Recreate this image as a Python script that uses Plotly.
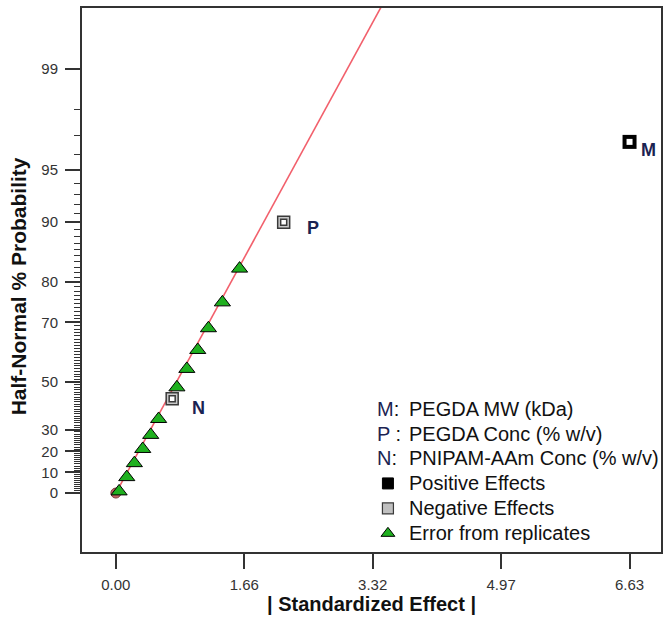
import plotly.graph_objects as go
from statistics import NormalDist

# ---------------- data ----------------
error_effects = [0.042, 0.141, 0.239, 0.347, 0.450, 0.552, 0.788, 0.916, 1.057, 1.195, 1.375, 1.597]
error_prob = [0.8, 7.7, 14.4, 21.1, 27.6, 34.7, 47.9, 54.9, 61.5, 68.3, 75.3, 82.7]

factor_names = ["M", "P", "N"]
factor_effects = [6.63, 2.166, 0.727]
factor_prob = [96.7, 90.0, 43.3]
factor_sign = ["positive", "negative", "negative"]

origin_effect = [0.0]
origin_prob = [0.0]

fit_slope = 0.862          # half-normal z per unit effect
fit_x = [0.0, 3.6]

x_tick_vals = [0.0, 1.6575, 3.315, 4.9725, 6.63]
x_tick_text = ["0.00", "1.66", "3.32", "4.97", "6.63"]
y_tick_prob = [0, 10, 20, 30, 50, 70, 80, 90, 95, 99]
y_tick_text = ["0", "10", "20", "30", "50", "70", "80", "90", "95", "99"]

legend_letters = ["M", "P", "N"]
legend_letter_sep = [":", " :", ":"]
legend_texts = ["PEGDA MW (kDa)", "PEGDA Conc (% w/v)", "PNIPAM-AAm Conc (% w/v)",
                "Positive Effects", "Negative Effects", "Error from replicates"]

# ---------------- helpers ----------------
nd = NormalDist()


def hn(p):
    """half-normal probability (%) -> z score"""
    return nd.inv_cdf(0.5 + p / 200.0)


NAVY = "#1b2352"
FRAME = "#333333"
GREEN = "#1fb01f"
FONT = "Arial, Liberation Sans"

fig = go.Figure()

# fitted line
fig.add_trace(go.Scatter(x=fit_x, y=[fit_slope * v for v in fit_x], mode="lines",
                         line=dict(color="#f2606c", width=1.6), hoverinfo="skip",
                         showlegend=False))

# origin point
fig.add_trace(go.Scatter(x=origin_effect, y=[hn(p) for p in origin_prob], mode="markers",
                         marker=dict(symbol="circle", size=10, color="#c26666",
                                     line=dict(color="#7a3a3a", width=1)),
                         showlegend=False))

# error triangles
fig.add_trace(go.Scatter(x=error_effects, y=[hn(p) for p in error_prob], mode="markers",
                         marker=dict(symbol="triangle-up", size=14, color=GREEN,
                                     line=dict(color="black", width=1)),
                         showlegend=False))

# factor squares
for name, ef, pr, sg in zip(factor_names, factor_effects, factor_prob, factor_sign):
    zy = hn(pr)
    if sg == "positive":
        fig.add_trace(go.Scatter(x=[ef], y=[zy], mode="markers",
                                 marker=dict(symbol="square", size=14, color="black",
                                             line=dict(color="black", width=0)),
                                 showlegend=False))
        fig.add_trace(go.Scatter(x=[ef], y=[zy], mode="markers",
                                 marker=dict(symbol="square", size=6, color="white",
                                             line=dict(color="white", width=0)),
                                 showlegend=False))
        xs, ys = 19, -8
    else:
        fig.add_trace(go.Scatter(x=[ef], y=[zy], mode="markers",
                                 marker=dict(symbol="square", size=12, color="#c8c8c8",
                                             line=dict(color="#3a3a3a", width=1.5)),
                                 showlegend=False))
        fig.add_trace(go.Scatter(x=[ef], y=[zy], mode="markers",
                                 marker=dict(symbol="square", size=6, color="white",
                                             line=dict(color="#3a3a3a", width=1.5)),
                                 showlegend=False))
        xs, ys = (29, -6) if name == "P" else (26, -9)
    fig.add_annotation(x=ef, y=zy, xref="x", yref="y", text="<b>%s</b>" % name,
                       showarrow=False, xshift=xs, yshift=ys,
                       font=dict(family=FONT, size=18, color=NAVY))

# ---------------- legend (manual) ----------------
PW, PH = 581.6, 545.0
def px2paper_x(px):
    return (px - 81.7) / PW
def px2paper_y(py):
    return (551.7 - py) / PH

row_y = [408, 433, 458, 483, 508, 533]
letter_x = 376
text_x = 408
key_x = 389

for i, t in enumerate(legend_texts):
    fig.add_annotation(x=px2paper_x(text_x), y=px2paper_y(row_y[i]), xref="paper", yref="paper",
                       text=t, showarrow=False, xanchor="left", yanchor="middle",
                       font=dict(family=FONT, size=20, color="#111111"))
for i, (l, s) in enumerate(zip(legend_letters, legend_letter_sep)):
    fig.add_annotation(x=px2paper_x(letter_x), y=px2paper_y(row_y[i]), xref="paper", yref="paper",
                       text="<span style='color:%s'>%s</span>%s" % (NAVY, l, s),
                       showarrow=False, xanchor="left", yanchor="middle",
                       font=dict(family=FONT, size=20, color="#111111"))

# legend keys on overlay axes (paper-like coordinates)
key_styles = [
    dict(symbol="square", size=11, color="black", line=dict(color="black", width=1)),
    dict(symbol="square", size=11, color="#c0c0c0", line=dict(color="#3a3a3a", width=1.2)),
    dict(symbol="triangle-up", size=12, color=GREEN, line=dict(color="black", width=1)),
]
for k, st in enumerate(key_styles):
    fig.add_trace(go.Scatter(x=[px2paper_x(key_x)], y=[px2paper_y(row_y[3 + k])],
                             xaxis="x2", yaxis="y2", mode="markers", marker=st,
                             showlegend=False, hoverinfo="skip"))

# ---------------- axes ----------------
minor_vals = [hn(p) for p in range(1, 99) if p not in y_tick_prob]

fig.update_layout(
    width=669, height=627,
    margin=dict(l=81.7, r=669 - 663.3, t=6.7, b=627 - 551.7),
    plot_bgcolor="white", paper_bgcolor="white",
    showlegend=False,
    font=dict(family=FONT),
    xaxis=dict(range=[-0.437, 7.036], tickmode="array", tickvals=x_tick_vals,
               ticktext=x_tick_text, ticks="outside", ticklen=15, tickwidth=2,
               tickcolor=FRAME, showline=True, linecolor=FRAME, linewidth=2,
               mirror=True, showgrid=False, zeroline=False,
               tickfont=dict(size=15, color="#333333"), ticklabelstandoff=3),
    yaxis=dict(range=[-0.358, 2.945], tickmode="array",
               tickvals=[hn(p) for p in y_tick_prob], ticktext=y_tick_text,
               ticks="outside", ticklen=15, tickwidth=2, tickcolor=FRAME,
               showline=True, linecolor=FRAME, linewidth=2, mirror=True,
               showgrid=False, zeroline=False,
               tickfont=dict(size=15, color="#333333"), ticklabelstandoff=4,
               minor=dict(tickmode="array", tickvals=minor_vals, ticks="outside",
                          ticklen=6, tickwidth=1, tickcolor=FRAME, showgrid=False)),
    xaxis2=dict(range=[0, 1], overlaying="x", anchor="y2", visible=False),
    yaxis2=dict(range=[0, 1], overlaying="y", anchor="x2", visible=False),
)

fig.add_annotation(x=0.5, y=px2paper_y(604), xref="paper", yref="paper",
                   text="<b>| Standardized Effect |</b>", showarrow=False,
                   xanchor="center", yanchor="middle",
                   font=dict(family=FONT, size=20, color="#111111"))
fig.add_annotation(x=px2paper_x(18), y=px2paper_y(286), xref="paper", yref="paper",
                   text="<b>Half-Normal % Probability</b>", showarrow=False,
                   textangle=-90, xanchor="center", yanchor="middle",
                   font=dict(family=FONT, size=21, color="#111111"))

fig.write_html("out.html", config={"displayModeBar": False},
               post_script="document.body.style.margin='0px';")
